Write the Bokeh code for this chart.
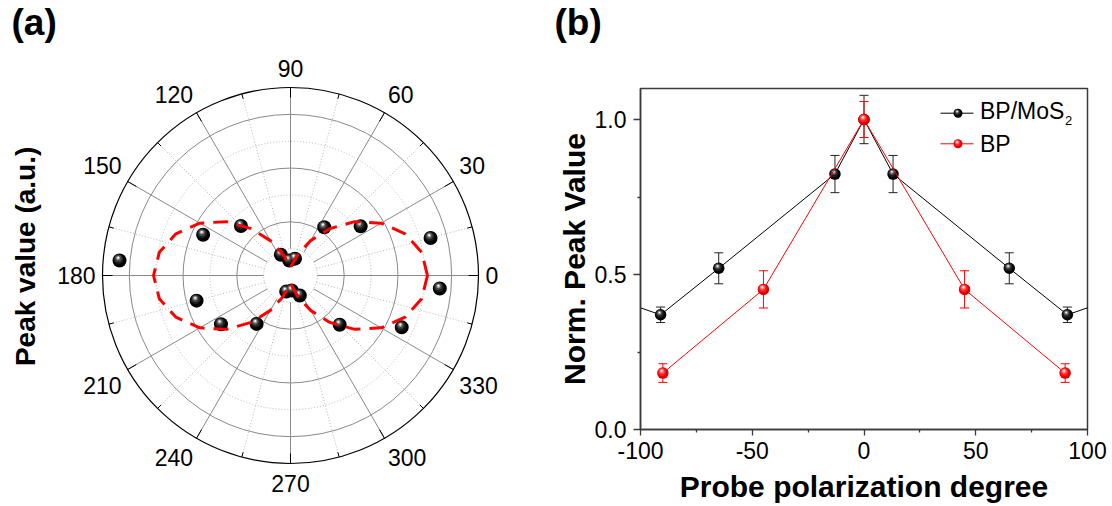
import numpy as np
from bokeh.plotting import figure
from bokeh.layouts import row, column
from bokeh.models import (Range1d, FixedTicker, PrintfTickFormatter, Whisker, TeeHead,
                          ColumnDataSource)
from bokeh.core.properties import value
from bokeh.embed import file_html
from bokeh.resources import INLINE

# ---------------- data: panel (a) polar plot ----------------
polar_angle_deg = [355, 15, 35, 55, 75, 95, 115, 135, 155, 175, 195, 215, 235, 255, 275, 295, 315, 335]
polar_peak = [5.58, 5.40, 3.19, 2.19, 0.65, 0.56, 0.85, 2.61, 3.59, 6.39, 3.62, 3.16, 2.20, 0.62, 0.56, 0.82, 2.59, 4.57]
fit_angle_deg = list(range(0, 370, 10))
fit_peak = [5.10, 4.96, 4.54, 3.90, 3.12, 2.28, 1.50, 0.86, 0.45, 0.30, 0.45, 0.86, 1.50, 2.28, 3.12, 3.90, 4.54, 4.96,
            5.10, 4.96, 4.54, 3.90, 3.12, 2.28, 1.50, 0.86, 0.45, 0.30, 0.45, 0.86, 1.50, 2.28, 3.12, 3.90, 4.54, 4.96,
            5.10]
angle_ticks = [0, 30, 60, 90, 120, 150, 180, 210, 240, 270, 300, 330]
angle_labels = ["0", "30", "60", "90", "120", "150", "180", "210", "240", "270", "300", "330"]
radial_solid = [2, 4, 6]
radial_dotted = [1, 3, 5]
radial_max = 7

# ---------------- data: panel (b) ----------------
bpmos2_x = [-115, -91, -65, -13, 0, 13, 65, 91, 115]
bpmos2_y = [0.43, 0.37, 0.52, 0.824, 1.0, 0.824, 0.52, 0.37, 0.43]
bpmos2_err = [0.025, 0.025, 0.05, 0.06, 0.078, 0.06, 0.05, 0.025, 0.025]
bp_x = [-90, -45, 0, 45, 90]
bp_y = [0.182, 0.452, 1.0, 0.452, 0.182]
bp_err = [0.03, 0.06, 0.058, 0.06, 0.03]
x_ticks = [-100, -50, 0, 50, 100]
x_minor = [-75, -25, 25, 75]
y_ticks = [0.0, 0.5, 1.0]
y_minor = [0.25, 0.75]

FONT = "Liberation Sans"
BSHIFT = 0.35   # empirical baseline correction (fraction of font size)

BLACK_SPH = [(1.0, "#000000", 0, 0), (0.70, "#1e1e1e", -0.07, 0.10), (0.48, "#4a4a4a", -0.09, 0.15),
             (0.30, "#9a9a9a", -0.10, 0.18), (0.14, "#ffffff", -0.10, 0.20)]
RED_SPH = [(1.0, "#e00000", 0, 0), (0.70, "#ff1a1a", -0.07, 0.10), (0.48, "#ff5555", -0.09, 0.15),
           (0.30, "#ffaaaa", -0.10, 0.18), (0.14, "#ffffff", -0.10, 0.20)]


def sphere(p, xs, ys, d, pal, ux, uy):
    for frac, col, fx, fy in pal:
        p.scatter(x=[x + fx * d * ux for x in xs], y=[y + fy * d * uy for y in ys],
                  size=frac * d, marker="circle", fill_color=col, line_color=None)


# ================= panel (a) (full-page canvas, also carries the "(b)" tag) =================
W, H = 1112, 506
K = 188.0 / 7.0          # pixels per radial unit
CX, CY = 290.0, 275.0    # centre in page pixels


def ax_(sx):
    return (sx - CX) / K


def ay_(sy):
    return (CY - sy) / K


pa = figure(width=W, height=H, x_range=Range1d(ax_(0), ax_(W)), y_range=Range1d(ay_(H), ay_(0)),
            x_axis_type=None, y_axis_type=None, toolbar_location=None, output_backend="svg",
            min_border=0, outline_line_color=None)

pa.circle(x=[0] * len(radial_dotted), y=[0] * len(radial_dotted), radius=radial_dotted,
          fill_color=None, line_color="#b8b8b8", line_dash="1 2", line_width=1)
th = np.deg2rad(np.array(angle_ticks) + 15)
pa.segment(x0=np.cos(th) * 1, y0=np.sin(th) * 1, x1=np.cos(th) * radial_max, y1=np.sin(th) * radial_max,
           line_color="#b8b8b8", line_dash="1 2", line_width=1)
pa.circle(x=[0] * len(radial_solid), y=[0] * len(radial_solid), radius=radial_solid,
          fill_color=None, line_color="#8a8a8a", line_width=1)
th = np.deg2rad(np.array(angle_ticks))
pa.segment(x0=np.cos(th) * 1, y0=np.sin(th) * 1, x1=np.cos(th) * radial_max, y1=np.sin(th) * radial_max,
           line_color="#8a8a8a", line_width=1)
pa.circle(x=[0], y=[0], radius=[radial_max], fill_color=None, line_color="black", line_width=1.2)
pa.segment(x0=np.cos(th) * radial_max, y0=np.sin(th) * radial_max,
           x1=np.cos(th) * (radial_max - 10 / K), y1=np.sin(th) * (radial_max - 10 / K),
           line_color="black", line_width=1)
th2 = np.deg2rad(np.array(angle_ticks) + 15)
pa.segment(x0=np.cos(th2) * radial_max, y0=np.sin(th2) * radial_max,
           x1=np.cos(th2) * (radial_max - 5 / K), y1=np.sin(th2) * (radial_max - 5 / K),
           line_color="black", line_width=1)

tp = np.deg2rad(polar_angle_deg)
px = list(np.array(polar_peak) * np.cos(tp))
py = list(np.array(polar_peak) * np.sin(tp))
sphere(pa, px, py, 14, BLACK_SPH, 1 / K, 1 / K)

tf = np.deg2rad(fit_angle_deg)
pa.line(x=np.array(fit_peak) * np.cos(tf), y=np.array(fit_peak) * np.sin(tf),
        line_color="#ff0000", line_width=3, line_dash="15 9")

FS = 23
lx, ly = [], []
for a, t in zip(angle_ticks, angle_labels):
    r = np.deg2rad(a)
    c, s = np.cos(r), np.sin(r)
    w = 0.556 * FS * len(t)
    h = 25
    sc = 0 if abs(c) < 1e-6 else np.sign(c)
    ss = 0 if abs(s) < 1e-6 else np.sign(s)
    xx = (188 + 7) * c + sc * w / 2
    yy = (188 + 7) * s + ss * h / 2
    lx.append(xx / K)
    ly.append((yy - 0.358 * FS + BSHIFT * FS) / K)
pa.text(x=lx, y=ly, text=angle_labels, text_align="center", text_baseline="alphabetic",
        text_font=value(FONT), text_font_size=f"{FS}px", text_color="black")

pa.text(x=[ax_(35 - BSHIFT * 28)], y=[ay_(252)], text=["Peak value  (a.u.)"], angle=np.pi / 2,
        text_align="center", text_baseline="alphabetic", text_font=value(FONT),
        text_font_style="bold", text_font_size="28px", text_color="black")
pa.text(x=[ax_(11), ax_(554)], y=[ay_(34.5 - BSHIFT * 37)] * 2, text=["(a)", "(b)"], text_align="left",
        text_baseline="alphabetic", text_font=value(FONT), text_font_style="bold",
        text_font_size="37px", text_color="black")

# ================= panel (b) =================
X0_B = 550
W_B = W - X0_B
FL, FR, FT, FB = 640.0, 1087.0, 88.0, 429.0


def bx(sx):
    return -100 + (sx - FL) * 200 / (FR - FL)


def by(sy):
    return (FB - sy) * 1.1 / (FB - FT)


UX = 200 / (FR - FL)
UY = 1.1 / (FB - FT)

pb = figure(width=W_B, height=H, x_range=Range1d(-100, 100), y_range=Range1d(0, 1.1),
            toolbar_location=None, output_backend="svg", title=None,
            min_border_left=int(FL - X0_B), min_border_right=int(W - FR), min_border_top=int(FT),
            min_border_bottom=int(H - FB))
pb.border_fill_color = None
pb.background_fill_color = "white"
pb.grid.visible = False
pb.outline_line_color = "#3a3a3a"
pb.outline_line_width = 1.5
pb.outline_line_alpha = 1.0

pb.xaxis.ticker = FixedTicker(ticks=x_ticks, minor_ticks=x_minor)
pb.yaxis.ticker = FixedTicker(ticks=y_ticks, minor_ticks=y_minor)
pb.xaxis.formatter = PrintfTickFormatter(format="%d")
pb.yaxis.formatter = PrintfTickFormatter(format="%.1f")
for ax in (pb.xaxis, pb.yaxis):
    ax.axis_line_color = "#3a3a3a"
    ax.axis_line_width = 1.5
    ax.major_tick_line_color = "#3a3a3a"
    ax.minor_tick_line_color = "#3a3a3a"
    ax.major_tick_line_width = 1.3
    ax.minor_tick_line_width = 1.3
    ax.major_tick_in = 0
    ax.minor_tick_in = 0
    ax.minor_tick_out = 3
    ax.major_label_text_font = FONT
    ax.major_label_text_font_size = "23px"
    ax.major_label_text_color = "black"
    ax.axis_label_text_font = FONT
    ax.axis_label_text_font_style = "bold"
    ax.axis_label_text_color = "black"
pb.xaxis.major_tick_out = 6
pb.yaxis.major_tick_out = 7
pb.xaxis.major_label_standoff = 6
pb.yaxis.major_label_standoff = 7
pb.xaxis.axis_label = "Probe polarization degree"
pb.yaxis.axis_label = "Norm. Peak Value"
pb.xaxis.axis_label_text_font_size = "30px"
pb.yaxis.axis_label_text_font_size = "30px"
pb.xaxis.axis_label_standoff = 8
pb.yaxis.axis_label_standoff = 1

pb.line(bpmos2_x, bpmos2_y, line_color="black", line_width=1)
keep = [i for i, x in enumerate(bpmos2_x) if abs(x) <= 100]
src1 = ColumnDataSource(dict(x=[bpmos2_x[i] for i in keep],
                             up=[bpmos2_y[i] + bpmos2_err[i] for i in keep],
                             lo=[bpmos2_y[i] - bpmos2_err[i] for i in keep]))
pb.add_layout(Whisker(base="x", upper="up", lower="lo", source=src1, line_color="#222222", line_width=1,
                      upper_head=TeeHead(size=9, line_color="#222222", line_width=1),
                      lower_head=TeeHead(size=9, line_color="#222222", line_width=1)))
sphere(pb, bpmos2_x, bpmos2_y, 11.5, BLACK_SPH, UX, UY)

pb.line(bp_x, bp_y, line_color="#ff0000", line_width=1)
src2 = ColumnDataSource(dict(x=bp_x, up=[y + e for y, e in zip(bp_y, bp_err)],
                             lo=[y - e for y, e in zip(bp_y, bp_err)]))
pb.add_layout(Whisker(base="x", upper="up", lower="lo", source=src2, line_color="#ff0000", line_width=1,
                      upper_head=TeeHead(size=9, line_color="#ff0000", line_width=1),
                      lower_head=TeeHead(size=9, line_color="#ff0000", line_width=1)))
sphere(pb, bp_x, bp_y, 11.5, RED_SPH, UX, UY)

pb.line([bx(940), bx(973)], [by(112.7), by(112.7)], line_color="black", line_width=1)
sphere(pb, [bx(957.5)], [by(112.7)], 9, BLACK_SPH, UX, UY)
pb.line([bx(940), bx(973)], [by(143.3), by(143.3)], line_color="#ff0000", line_width=1)
sphere(pb, [bx(957.5)], [by(143.3)], 9, RED_SPH, UX, UY)
pb.text(x=[bx(979.5)], y=[by(118.3 - BSHIFT * 23)], text=["BP/MoS"], text_align="left",
        text_baseline="alphabetic", text_font=value(FONT), text_font_size="23px", text_color="black")
pb.text(x=[bx(1064.5)], y=[by(124.5 - BSHIFT * 13)], text=["2"], text_align="left",
        text_baseline="alphabetic", text_font=value(FONT), text_font_size="13px", text_color="black")
pb.text(x=[bx(979.5)], y=[by(151.7 - BSHIFT * 23)], text=["BP"], text_align="left",
        text_baseline="alphabetic", text_font=value(FONT), text_font_size="23px", text_color="black")

layout = row(column(pa), column(pb, margin=(0, 0, 0, -W_B)))
open("out.html", "w").write(file_html(layout, INLINE))
